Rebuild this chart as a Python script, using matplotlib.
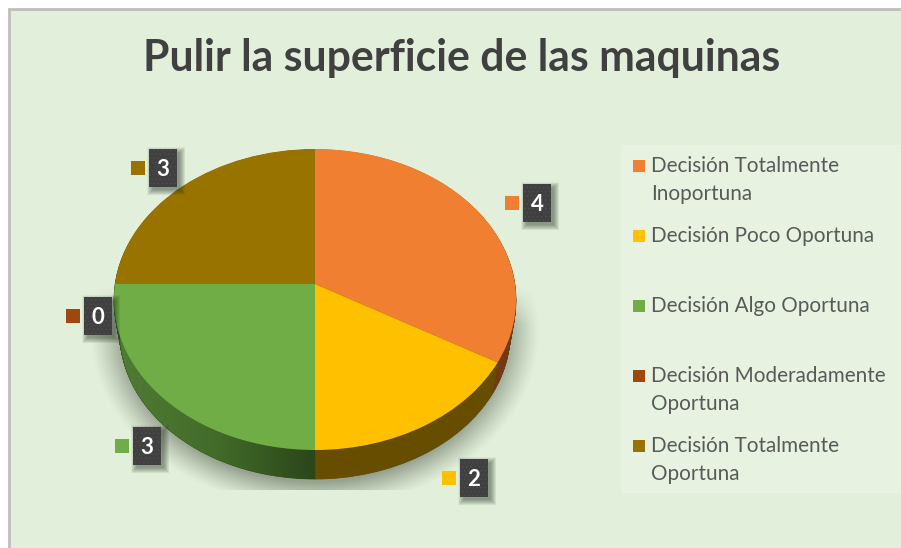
import numpy as np
import matplotlib
matplotlib.use("Agg")
import matplotlib.pyplot as plt
from matplotlib.patches import Rectangle
from matplotlib.transforms import Transform, Affine2D
from matplotlib.colors import LinearSegmentedColormap

plt.rcParams['font.family'] = ['Lato', 'DejaVu Sans']
plt.rcParams['hatch.linewidth'] = 0.5

title = "Pulir la superficie de las maquinas"
categories = ["Decisión Totalmente\nInoportuna", "Decisión Poco Oportuna", "Decisión Algo Oportuna",
              "Decisión Moderadamente\nOportuna", "Decisión Totalmente\nOportuna"]
values = [4, 2, 3, 0, 3]
colors = ["#F07F32", "#FFC000", "#70AD47", "#9E480E", "#997300"]
side_colors = ["#6F3A14", "#664D00", "#35591F", "#5A2A08", "#5A4400"]
label_boxes = [(523, 184), (460, 459), (133, 427), (84, 297), (149, 149)]
legend_y = [165, 235, 305, 375, 445]

W, H = 901, 548
BG = "#E2EFDA"
fig = plt.figure(figsize=(W / 100, H / 100), dpi=100, facecolor="white")
ax = fig.add_axes([0, 0, 1, 1])
ax.set_xlim(0, W)
ax.set_ylim(H, 0)
ax.axis("off")

# chart area and border
ax.add_patch(Rectangle((9, 9), W, H, fc=BG, ec="#BFBFBF", lw=2, zorder=0))

# soft shadow beneath the pie
xx, yy = np.meshgrid(np.arange(W) + .5, np.arange(H) + .5)
d = (np.sqrt(((xx - 315) / 206) ** 2 + ((yy - 331) / 163) ** 2) - 1) * 180
alpha = np.clip(0.55 - d / 30, 0, 1) ** 1.2 * 0.42
alpha *= np.clip((yy - 285) / 40, 0, 1)
alpha[yy > 490] = 0
sh = np.zeros((H, W, 4))
sh[..., :3] = (0.18, 0.22, 0.16)
sh[..., 3] = alpha
ax.imshow(sh, extent=(0, W, H, 0), zorder=1, aspect="auto", interpolation="bilinear")
ax.set_xlim(0, W)
ax.set_ylim(H, 0)


class Perspective(Transform):
    """Tilts the unit-circle pie into the reference's perspective view."""
    input_dims = output_dims = 2
    is_separable = False
    has_inverse = False

    def transform_non_affine(self, v):
        v = np.asarray(v, float)
        den = 1 + 0.103 * v[:, 1]
        return np.column_stack((200 * v[:, 0] / den, -148.9 * v[:, 1] / den))


persp = Perspective()


def layer(t, cols, z):
    wedges, _ = ax.pie(values, colors=cols, startangle=90, counterclock=False, radius=1,
                       wedgeprops=dict(lw=0.6 if t > 0 else 0, edgecolor=None))
    ax.set_aspect("auto")
    s = 1 - 0.03 * t
    tr = persp + Affine2D().scale(s).translate(315, 284 + 34 * t) + ax.transData
    for w, c in zip(wedges, cols):
        w.set_transform(tr)
        w.set_zorder(z)
        w.set_edgecolor(c)
        w.set_clip_on(False)
    return wedges


N = 50
for i in range(N, 0, -1):
    bottom = layer(i / N, side_colors, 2)
    if i == N:
        green_bottom = bottom[2]

# gradient on the side of the green slice
cmap = LinearSegmentedColormap.from_list("g", ["#4F7C33", "#426B29", "#2B461A"])
im = ax.imshow(np.linspace(0, 1, 200)[None, :], extent=(118, 316, 490, 300), cmap=cmap,
               aspect="auto", zorder=3)
im.set_clip_path(green_bottom)
layer(0, colors, 4)
ax.set_xlim(0, W)
ax.set_ylim(H, 0)

# title
ax.text(462, 71, title, fontsize=30.8, fontweight="bold", color="#404040", ha="center",
        va="baseline", zorder=6)

# data labels
for (bx, by), v, c in zip(label_boxes, values, colors):
    for k in range(12, 0, -1):
        ax.add_patch(Rectangle((bx + 3 - k / 2 + 1, by + 3 - k / 2 + 1), 26 + k, 36 + k, fc="#1A2A18",
                               alpha=0.045, ec="none", zorder=6))
    ax.add_patch(Rectangle((bx, by), 28, 38, fc="#404040", ec="#4E4E4E", lw=0, hatch="....",
                           zorder=7))
    ax.text(bx + 14, by + 27, str(v), fontsize=16, fontweight="bold", color="white",
            ha="center", va="baseline", zorder=8)
    ax.add_patch(Rectangle((bx - 18, by + 12), 14, 14, fc=c, ec="none", zorder=7))

# legend
ax.add_patch(Rectangle((621, 145), 285, 348, fc="#FFFFFF", alpha=0.2, ec="none", zorder=5))
for y, c, name in zip(legend_y, colors, categories):
    ax.add_patch(Rectangle((633, y - 5), 12, 12, fc=c, ec="none", zorder=6))
    for j, line in enumerate(name.split("\n")):
        ax.text(651, y + 7 + 28 * j, line, fontsize=14.9, color="#595959", ha="left",
                va="baseline", zorder=6)

fig.savefig("out.png", dpi=100, facecolor="white")
